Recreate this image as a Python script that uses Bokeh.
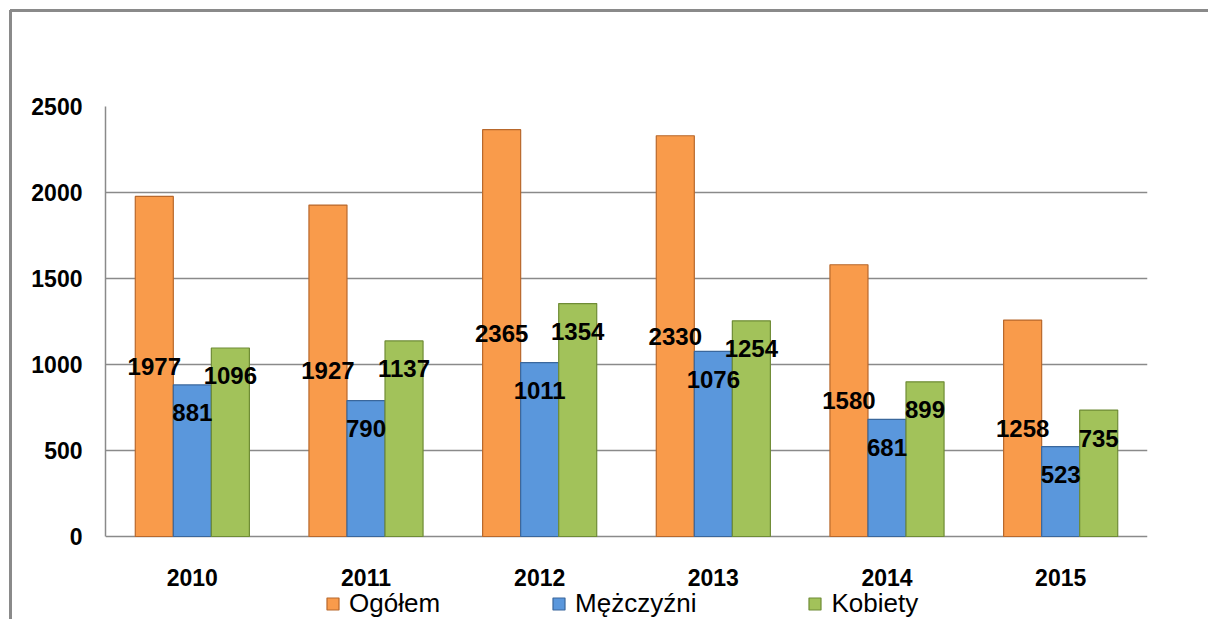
from bokeh.plotting import figure
from bokeh.models import (FactorRange, Range1d, Legend, LegendItem,
                          ColumnDataSource, FixedTicker)
from bokeh.transform import dodge
from bokeh.core.properties import value
from bokeh.embed import file_html
from bokeh.resources import INLINE

years = ["2010", "2011", "2012", "2013", "2014", "2015"]
ogolem = [1977, 1927, 2365, 2330, 1580, 1258]
mezczyzni = [881, 790, 1011, 1076, 681, 523]
kobiety = [1096, 1137, 1354, 1254, 899, 735]
series_names = ["Ogółem", "Mężczyźni", "Kobiety"]
y_ticks = [0, 500, 1000, 1500, 2000, 2500]

src = ColumnDataSource(dict(
    year=years,
    og=ogolem, me=mezczyzni, ko=kobiety,
    og_mid=[v / 2 for v in ogolem],
    og_lbl=[str(v) for v in ogolem],
    me_lbl=[str(v) for v in mezczyzni],
    ko_lbl=[str(v) for v in kobiety],
))

GRID = "#8a8a8a"
FONT = "Liberation Sans"

# layout (pixels)
FIG_W, FIG_H = 1208, 619
LEFT, TOP, RIGHT = 105, 106, 61
PLOT_H = 430                      # height of the 0..2500 value area
FRAME_H = FIG_H - TOP             # frame extends to the bottom (room for labels/legend)
Y_MAX = 2500
y_start = -Y_MAX * (FRAME_H - PLOT_H) / PLOT_H

p = figure(x_range=FactorRange(*years, range_padding=0),
           y_range=Range1d(y_start, Y_MAX),
           width=FIG_W, height=FIG_H, output_backend="svg", toolbar_location=None,
           x_axis_location=None,
           min_border_left=LEFT, min_border_right=RIGHT, min_border_top=TOP,
           min_border_bottom=0)
p.outline_line_color = None
p.background_fill_color = "white"
p.border_fill_alpha = 0
# outer chart border: only its top and left edges are visible in the reference
p.styles = {
    "background-color": "white",
    "background-image": "linear-gradient(#8a8a8a, #8a8a8a), linear-gradient(#8a8a8a, #8a8a8a)",
    "background-position": "10px 9px, 9px 10px",
    "background-size": "100% 3px, 3px 100%",
    "background-repeat": "no-repeat, no-repeat",
}

W = 0.219
colors = [("#F99B4B", "#B8682C"), ("#5A97DC", "#3A679C"), ("#A2C25A", "#6F8C36")]
fields = ["og", "me", "ko"]
offsets = [-W, 0, W]
renderers = []
for f, off, (fc, lc) in zip(fields, offsets, colors):
    r = p.vbar(x=dodge("year", off, range=p.x_range), top=f, width=W, bottom=0,
               source=src, fill_color=fc, line_color=lc, line_width=1.2)
    renderers.append(r)

common = dict(text_align="center", text_baseline="middle",
              text_font=value(FONT), text_font_style="bold",
              text_font_size="24px", text_color="black", source=src)
p.text(x=dodge("year", -W, range=p.x_range), y="og_mid", text="og_lbl", **common)
p.text(x=dodge("year", 0, range=p.x_range), y="me", text="me_lbl", y_offset=28, **common)
p.text(x=dodge("year", W, range=p.x_range), y="ko", text="ko_lbl", y_offset=28, **common)

# category (year) labels under the value axis
p.text(x="year", y=0, text="year", y_offset=41, text_align="center",
       text_baseline="middle", text_font=value(FONT), text_font_style="bold",
       text_font_size="23px", text_color="black", source=src)

p.xgrid.grid_line_color = None
p.ygrid.ticker = FixedTicker(ticks=y_ticks)
p.ygrid.grid_line_color = GRID
p.ygrid.grid_line_width = 1.5
p.yaxis.ticker = FixedTicker(ticks=y_ticks)
p.yaxis.bounds = (0, Y_MAX)
p.yaxis.minor_tick_line_color = None
p.yaxis.major_tick_line_color = None
p.yaxis.major_tick_out = 0
p.yaxis.major_label_standoff = 23
p.yaxis.axis_line_color = GRID
p.yaxis.axis_line_width = 1.5
p.yaxis.major_label_text_font = FONT
p.yaxis.major_label_text_font_style = "bold"
p.yaxis.major_label_text_font_size = "23px"
p.yaxis.major_label_text_color = "black"

legend = Legend(items=[LegendItem(label=n, renderers=[r]) for n, r in zip(series_names, renderers)],
                orientation="horizontal", location=(220, 0),
                glyph_width=15, glyph_height=15, label_standoff=9, spacing=111,
                padding=0, margin=0, border_line_color=None,
                background_fill_alpha=0, label_text_font=FONT,
                label_text_font_size="26px", label_text_color="black")
p.add_layout(legend, "center")

open("out.html", "w").write(file_html(p, INLINE))
